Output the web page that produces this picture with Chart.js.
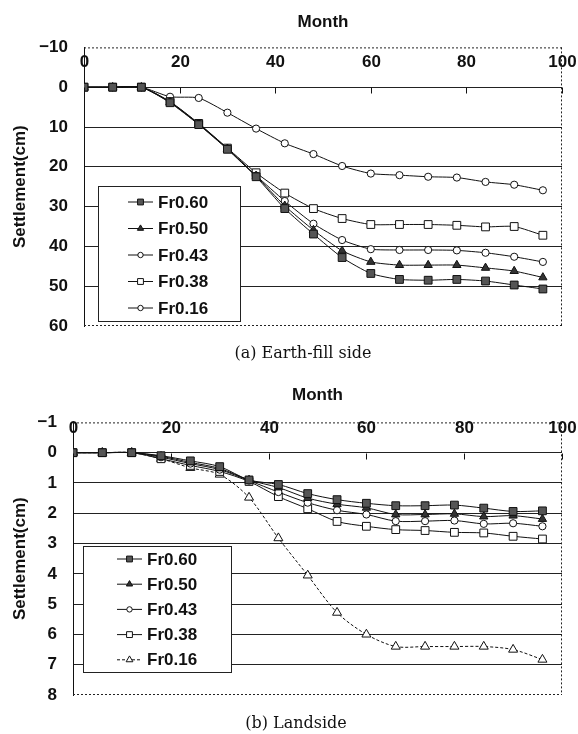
<!DOCTYPE html>
<html>
<head>
<meta charset="utf-8">
<script src="https://cdn.jsdelivr.net/npm/chart.js@4.4.1/dist/chart.umd.min.js"></script>
<style>
  html, body { margin: 0; padding: 0; background: #fff; }
  #wrap { position: relative; width: 578px; height: 734px; }
  canvas { position: absolute; left: 0; }
  #chartA { top: 0; }
  #chartB { top: 370px; }
  .cap { position: absolute; font-family: "DejaVu Serif", serif; font-size: 16px; line-height: 20px;
         color: #111; transform: translateX(-50%); white-space: nowrap; }
</style>
</head>
<body>
<div id="wrap">
  <canvas id="chartA" width="578" height="370"></canvas>
  <canvas id="chartB" width="578" height="364"></canvas>
  <div class="cap" style="left:303px;top:343px">(a) Earth-fill side</div>
  <div class="cap" style="left:296px;top:713px">(b) Landside</div>
</div>
<script>
const MONTHS = [0, 6, 12, 18, 24, 30, 36, 42, 48, 54, 60, 66, 72, 78, 84, 90, 96];
const X_TICKS = [0, 20, 40, 60, 80, 100];
const SERIES_LABELS = ['Fr0.60', 'Fr0.50', 'Fr0.43', 'Fr0.38', 'Fr0.16'];

// (a) Earth-fill side, settlement in cm
const FR60_A = [0, 0, 0, 3.9, 9.4, 15.6, 22.5, 30.5, 36.9, 42.8, 46.8, 48.3, 48.5, 48.3, 48.7, 49.7, 50.7];
const FR50_A = [0, 0, 0, 3.8, 9.3, 15.5, 22.3, 29.8, 35.9, 41.1, 43.9, 44.7, 44.7, 44.7, 45.4, 46.2, 47.8];
const FR43_A = [0, 0, 0, 3.7, 9.2, 15.4, 22.2, 28.6, 34.3, 38.4, 40.7, 40.9, 40.9, 41.0, 41.6, 42.6, 43.9];
const FR38_A = [0, 0, 0, 3.6, 9.1, 15.3, 21.5, 26.6, 30.5, 33.0, 34.5, 34.5, 34.5, 34.7, 35.1, 35.0, 37.2];
const FR16_A = [0, 0, 0, 2.4, 2.7, 6.4, 10.4, 14.1, 16.8, 19.8, 21.7, 22.1, 22.5, 22.7, 23.8, 24.5, 25.9];

// (b) Landside, settlement in cm
const FR60_B = [0, 0, 0, 0.1, 0.27, 0.46, 0.9, 1.05, 1.35, 1.55, 1.67, 1.75, 1.75, 1.73, 1.83, 1.94, 1.92];
const FR50_B = [0, 0, 0, 0.12, 0.32, 0.52, 0.9, 1.15, 1.5, 1.7, 1.82, 2.04, 2.04, 2.02, 2.11, 2.08, 2.19];
const FR43_B = [0, 0, 0, 0.15, 0.36, 0.56, 0.92, 1.3, 1.65, 1.9, 2.04, 2.26, 2.26, 2.24, 2.35, 2.33, 2.43];
const FR38_B = [0, 0, 0, 0.2, 0.42, 0.62, 0.95, 1.45, 1.85, 2.27, 2.43, 2.54, 2.57, 2.63, 2.65, 2.76, 2.85];
const FR16_B = [0, 0, 0, 0.2, 0.5, 0.72, 1.48, 2.82, 4.05, 5.28, 6.0, 6.4, 6.4, 6.4, 6.4, 6.5, 6.83];

const FONT = '"Liberation Sans", Arial, sans-serif';
const INK = '#111';

const marks = {
  sqFill: { pointStyle: 'rect', pointBackgroundColor: '#555', pointRadius: 5.5 },
  triFill: { pointStyle: 'triangle', pointBackgroundColor: '#333', pointRadius: 4.8 },
  circOpen: { pointStyle: 'circle', pointBackgroundColor: '#fff', pointRadius: 3.6 },
  sqOpen: { pointStyle: 'rect', pointBackgroundColor: '#fff', pointRadius: 5.5 },
  triOpen: { pointStyle: 'triangle', pointBackgroundColor: '#fff', pointRadius: 5.2, borderDash: [3, 2] },
};

function series(label, values, style, tension) {
  return Object.assign({
    label: label,
    data: values.map(function (v, i) { return { x: MONTHS[i], y: v }; }),
    borderColor: INK,
    borderWidth: 1,
    tension: tension,
    pointBorderColor: INK,
    pointBorderWidth: 1,
  }, style);
}

// frame, x ticks on the zero line and the boxed legend
const axisDeco = {
  id: 'axisDeco',
  beforeDatasetsDraw(chart) {
    const ctx = chart.ctx, a = chart.chartArea;
    ctx.save();
    ctx.strokeStyle = '#222';
    ctx.lineWidth = 1;
    ctx.setLineDash([2, 2]);
    ctx.beginPath();
    ctx.moveTo(a.left, a.top + 0.5); ctx.lineTo(a.right, a.top + 0.5);
    ctx.moveTo(a.right - 0.5, a.top); ctx.lineTo(a.right - 0.5, a.bottom);
    ctx.moveTo(a.left, a.bottom - 0.5); ctx.lineTo(a.right, a.bottom - 0.5);
    ctx.stroke();
    ctx.restore();
  },
  afterDraw(chart, args, opts) {
    const ctx = chart.ctx, x = chart.scales.x, y = chart.scales.y;
    const y0 = Math.round(y.getPixelForValue(0)) + 0.5;
    ctx.save();
    ctx.strokeStyle = INK;
    ctx.lineWidth = 1;
    ctx.fillStyle = INK;
    ctx.font = 'bold 17px ' + FONT;
    ctx.textAlign = 'center';
    ctx.textBaseline = 'middle';
    X_TICKS.forEach(function (v) {
      const px = Math.round(x.getPixelForValue(v)) + 0.5;
      ctx.beginPath();
      ctx.moveTo(px, y0); ctx.lineTo(px, y0 + 6);
      ctx.stroke();
      ctx.fillText(String(v), px, y0 - 25);
    });

    // legend
    const L = opts.legend;
    ctx.fillStyle = '#fff';
    ctx.fillRect(L.left, L.top, L.width, L.height);
    ctx.strokeStyle = '#222';
    ctx.strokeRect(L.left + 0.5, L.top + 0.5, L.width, L.height);
    ctx.textAlign = 'left';
    chart.data.datasets.forEach(function (ds, i) {
      const ry = L.rowTop + i * L.rowGap;
      ctx.strokeStyle = INK;
      ctx.setLineDash(ds.borderDash || []);
      ctx.beginPath();
      ctx.moveTo(L.lineLeft, ry); ctx.lineTo(L.lineLeft + 25, ry);
      ctx.stroke();
      ctx.setLineDash([]);
      ctx.fillStyle = ds.pointBackgroundColor;
      ctx.strokeStyle = INK;
      Chart.helpers.drawPoint(ctx, { pointStyle: ds.pointStyle, radius: ds.pointRadius * 0.75, borderWidth: 1, rotation: 0 }, L.lineLeft + 12.5, ry);
      ctx.fillStyle = INK;
      ctx.fillText(ds.label, L.lineLeft + 30, ry + 1);
    });
    ctx.restore();
  },
};

function buildChart(canvasId, cfg) {
  return new Chart(document.getElementById(canvasId), {
    type: 'line',
    data: { datasets: cfg.datasets },
    plugins: [axisDeco],
    options: {
      responsive: false,
      animation: false,
      layout: { padding: { left: 0, right: 16, top: 0, bottom: cfg.padBottom } },
      plugins: {
        legend: { display: false },
        tooltip: { enabled: false },
        title: {
          display: true, text: 'Month', fullSize: false, color: INK,
          font: { family: FONT, size: 17, weight: 'bold' },
          padding: { top: cfg.titleTop, bottom: cfg.titleBottom },
        },
        axisDeco: { legend: cfg.legend },
      },
      scales: {
        x: { type: 'linear', display: false, min: 0, max: 100 },
        y: {
          reverse: true, min: cfg.yMin, max: cfg.yMax,
          afterFit: function (s) { s.width = cfg.axisWidth; },
          ticks: {
            stepSize: cfg.yStep, padding: 16, color: INK,
            font: { family: FONT, size: 17, weight: 'bold' },
            callback: function (v) { return v < 0 ? '\u2212' + Math.abs(v) : String(v); },
          },
          grid: {
            drawTicks: false,
            color: function (c) { return (c.tick.value === cfg.yMin || c.tick.value === cfg.yMax) ? 'rgba(0,0,0,0)' : '#222'; },
          },
          border: { display: true, color: INK, width: 1 },
          title: {
            display: true, text: 'Settlement(cm)', color: INK,
            font: { family: FONT, size: 17, weight: 'bold' },
            padding: { top: 10, bottom: 0 },
          },
        },
      },
    },
  });
}

buildChart('chartA', {
  datasets: [
    series(SERIES_LABELS[0], FR60_A, marks.sqFill, 0.2),
    series(SERIES_LABELS[1], FR50_A, marks.triFill, 0.2),
    series(SERIES_LABELS[2], FR43_A, marks.circOpen, 0.2),
    series(SERIES_LABELS[3], FR38_A, marks.sqOpen, 0.2),
    series(SERIES_LABELS[4], FR16_A, marks.circOpen, 0.2),
  ],
  yMin: -10, yMax: 60, yStep: 10, axisWidth: 84,
  padBottom: 44, titleTop: 12, titleBottom: 15,
  legend: { left: 98, top: 186, width: 142, height: 135, rowTop: 202, rowGap: 26.5, lineLeft: 128 },
});

buildChart('chartB', {
  datasets: [
    series(SERIES_LABELS[0], FR60_B, marks.sqFill, 0.3),
    series(SERIES_LABELS[1], FR50_B, marks.triFill, 0.3),
    series(SERIES_LABELS[2], FR43_B, marks.circOpen, 0.3),
    series(SERIES_LABELS[3], FR38_B, marks.sqOpen, 0.3),
    series(SERIES_LABELS[4], FR16_B, marks.triOpen, 0.3),
  ],
  yMin: -1, yMax: 8, yStep: 1, axisWidth: 73,
  padBottom: 39, titleTop: 15, titleBottom: 17,
  legend: { left: 83, top: 176, width: 148, height: 126, rowTop: 189, rowGap: 25.2, lineLeft: 117 },
});
</script>
</body>
</html>
